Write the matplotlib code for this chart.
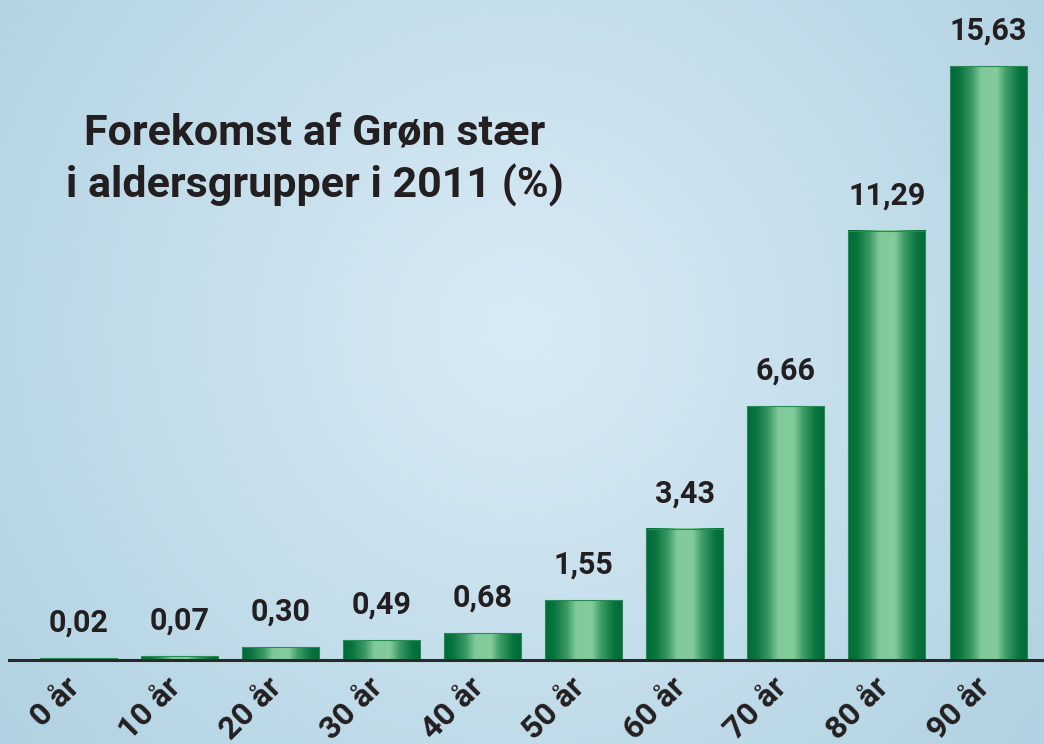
import numpy as np
import matplotlib
matplotlib.use("Agg")
import matplotlib.pyplot as plt
from matplotlib.colors import LinearSegmentedColormap
from matplotlib.transforms import ScaledTranslation

# ---- data ----
categories = ["0 år", "10 år", "20 år", "30 år", "40 år",
              "50 år", "60 år", "70 år", "80 år", "90 år"]
values = [0.02, 0.07, 0.30, 0.49, 0.68, 1.55, 3.43, 6.66, 11.29, 15.63]
value_labels = ["0,02", "0,07", "0,30", "0,49", "0,68",
                "1,55", "3,43", "6,66", "11,29", "15,63"]
title = "Forekomst af Grøn stær\ni aldersgrupper i 2011 (%)"

FONT = "Roboto"
TXT = "#231f20"
W, H = 1044, 744

fig = plt.figure(figsize=(W / 100, H / 100), dpi=100)

# ---- background radial gradient ----
bg = fig.add_axes([0, 0, 1, 1], zorder=0)
yy, xx = np.mgrid[0:H, 0:W]
d = np.sqrt((xx - 520.0) ** 2 + (yy - 330.0) ** 2) / 900.0
t = np.clip(d, 0, 1)[..., None]
inner = np.array([217, 235, 245]) / 255.0
outer = np.array([163, 201, 219]) / 255.0
img = inner * (1 - t) + outer * t
bg.imshow(img, extent=[0, 1, 0, 1], aspect="auto", origin="upper")
bg.set_axis_off()

# ---- main axes ----
ax = fig.add_axes([9 / W, 85.3 / H, 1035 / W, 658.7 / H], zorder=1)
ax.set_facecolor("none")
for s in ["top", "left", "right"]:
    ax.spines[s].set_visible(False)
ax.spines["bottom"].set_position(("outward", 1.2))
ax.spines["bottom"].set_linewidth(2.2)
ax.spines["bottom"].set_color("#2a2a2a")
ax.spines["bottom"].set_zorder(1)

x = np.arange(len(values))
bars = ax.bar(x, values, width=0.762, color="none",
              edgecolor="#2a8a55", linewidth=0.8, zorder=3)

cmap = LinearSegmentedColormap.from_list(
    "bar",
    [(0.0, "#006b38"), (0.12, "#0a7540"), (0.28, "#3a9a64"),
     (0.40, "#80c99a"), (0.60, "#84cc9c"), (0.72, "#3f9d68"),
     (0.88, "#0a7540"), (1.0, "#006b38")])
grad = np.linspace(0, 1, 256).reshape(1, -1)
for b in bars:
    x0, y0 = b.get_xy()
    w, h = b.get_width(), b.get_height()
    ax.imshow(grad, cmap=cmap, extent=[x0, x0 + w, y0, y0 + h],
              aspect="auto", zorder=2, interpolation="bilinear")

for b, lbl in zip(bars, value_labels):
    ax.annotate(lbl, (b.get_x() + b.get_width() / 2, b.get_height()),
                xytext=(0, 19), textcoords="offset points",
                ha="center", va="baseline", fontsize=22,
                fontweight="bold", family=FONT, color=TXT)

ax.set_xlim(-0.688, 9.554)
ax.set_ylim(0, 17.37)
ax.set_yticks([])
ax.set_xticks(x)
ax.set_xticklabels(categories, rotation=45, ha="right", fontsize=23,
                   fontweight="bold", family=FONT, color=TXT)
ax.tick_params(axis="x", length=0, pad=8)
shift = ScaledTranslation(0.07, 0, fig.dpi_scale_trans)
for lab in ax.get_xticklabels():
    lab.set_transform(lab.get_transform() + shift)

# ---- title ----
fig.text(315 / W, 1 - 114 / H, title, ha="center", va="top",
         fontsize=31, fontweight="bold", family=FONT, color=TXT,
         linespacing=1.25)

fig.savefig("out.png", dpi=100)
